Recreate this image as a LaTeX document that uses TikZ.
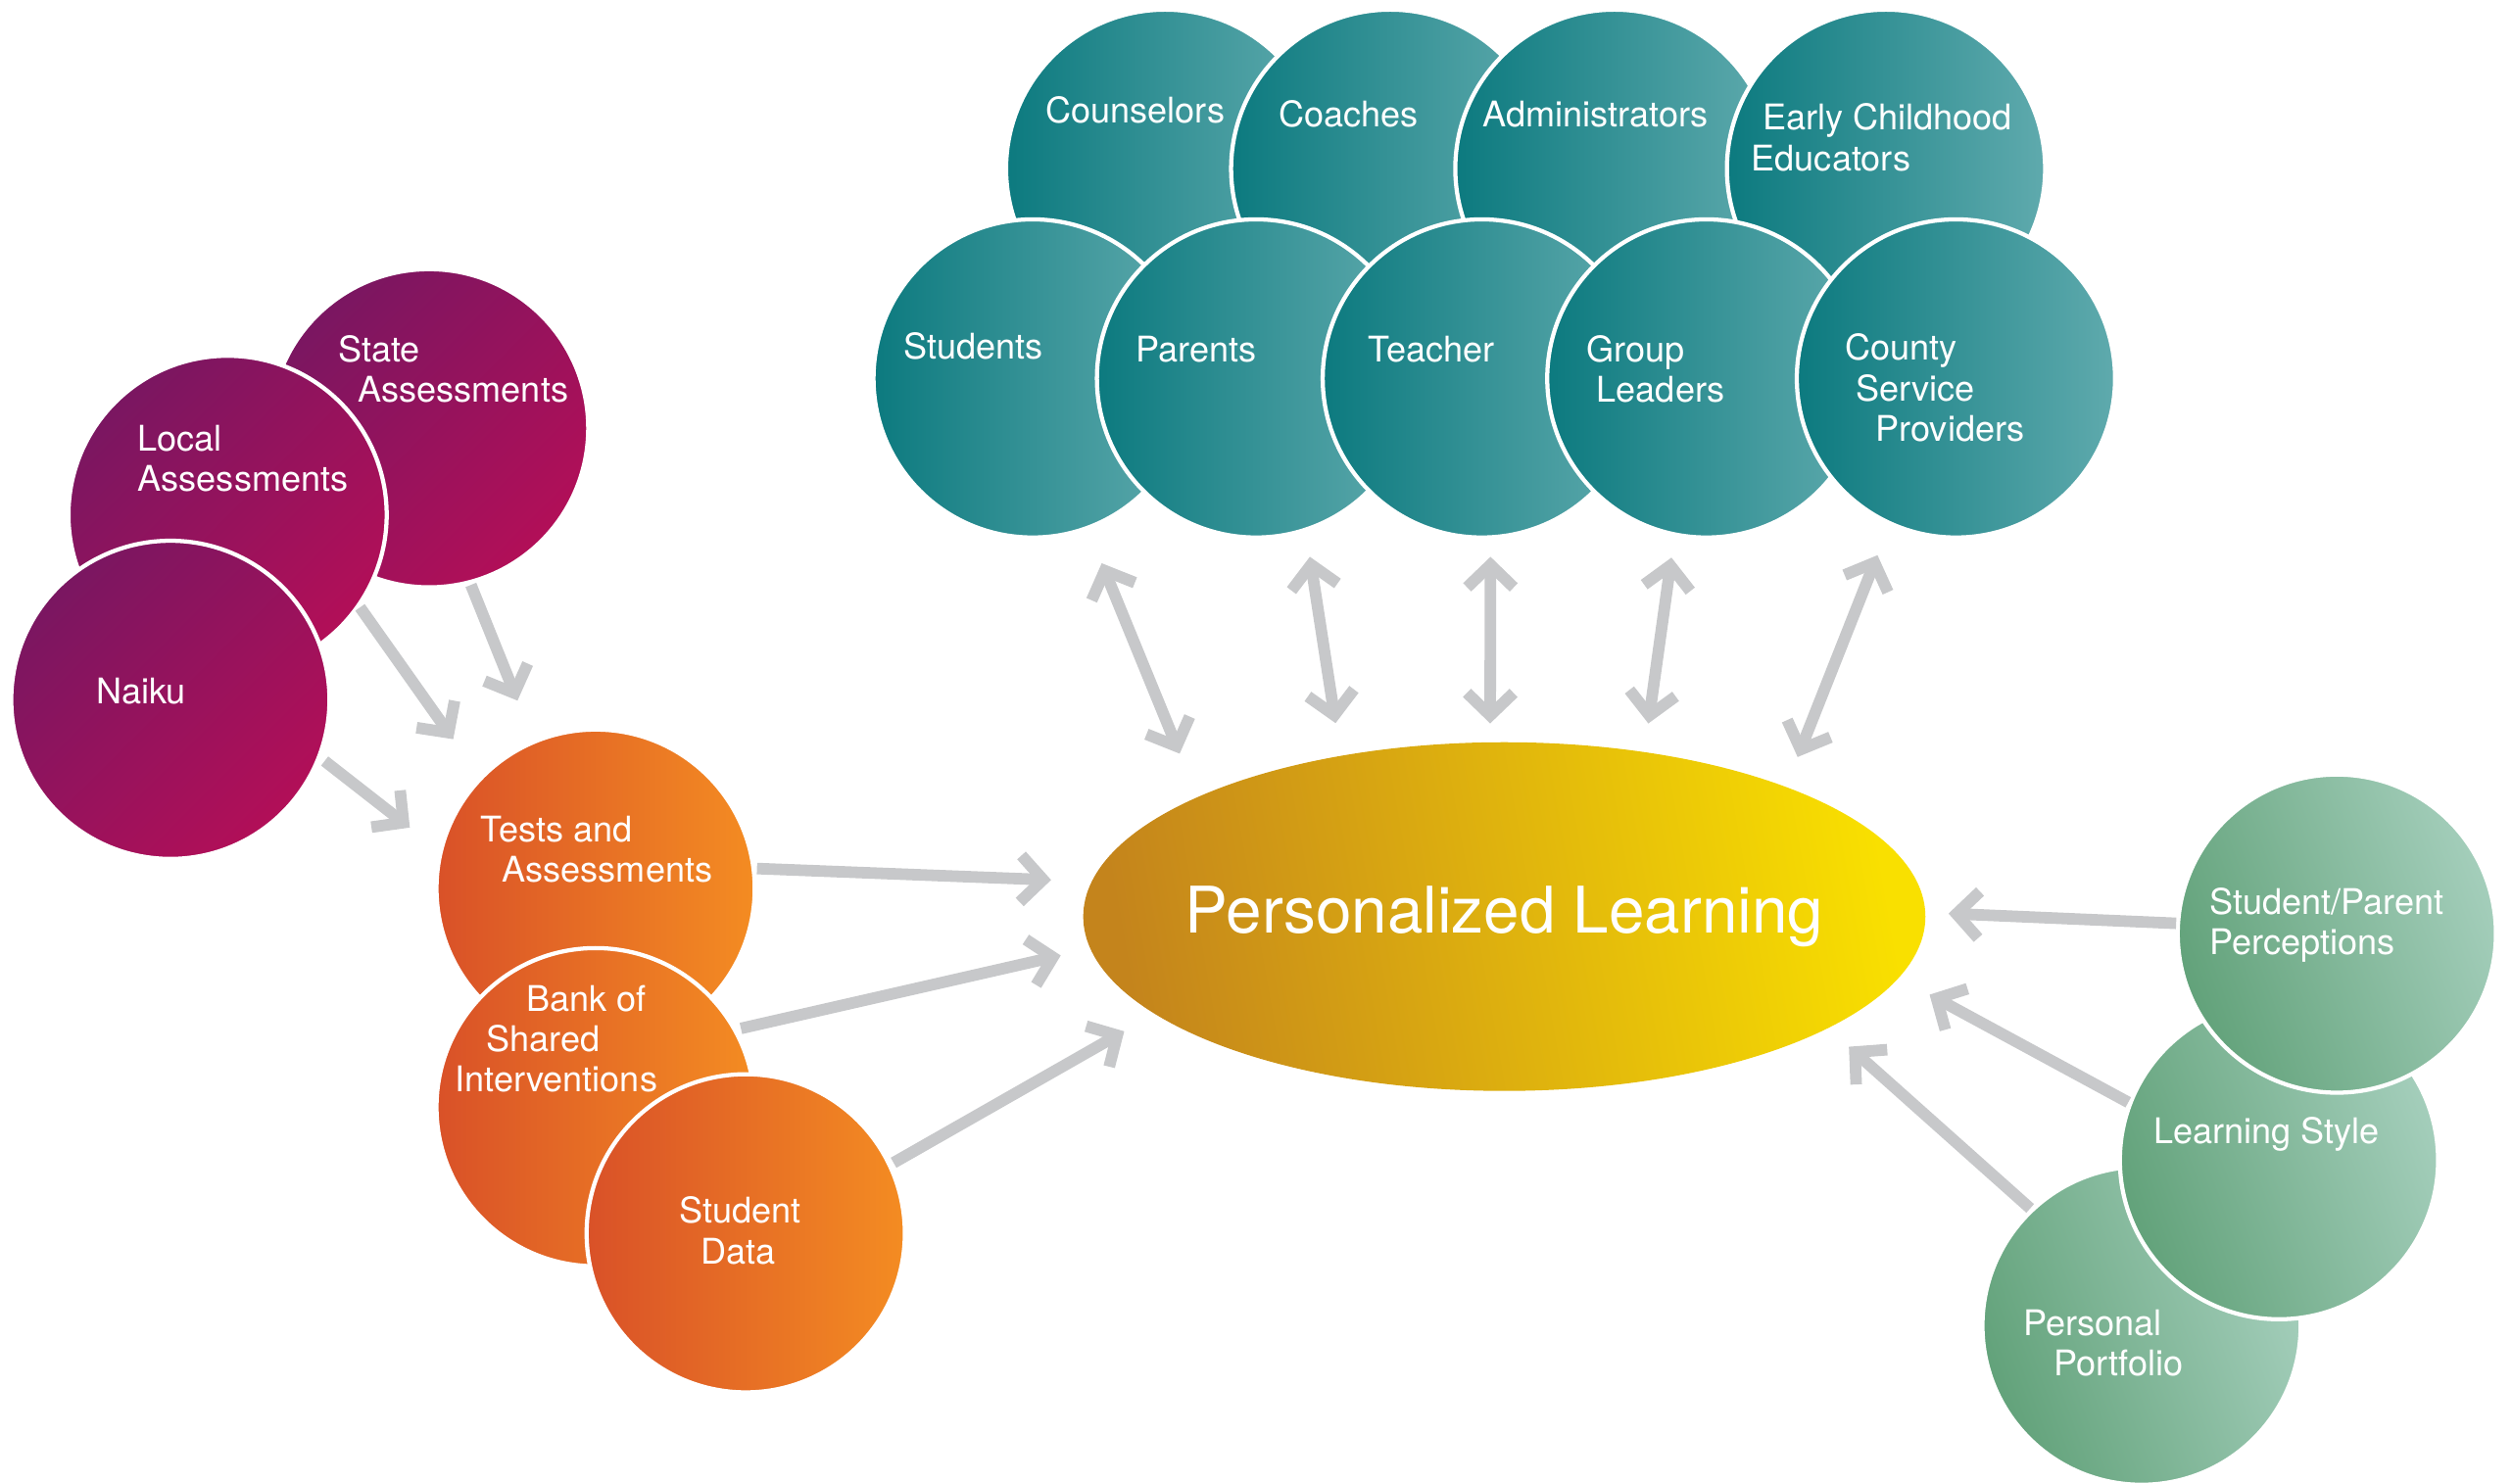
\documentclass[tikz,border=0pt]{standalone}
\usepackage{fontspec}
\setmainfont{TeX Gyre Heros}
\usetikzlibrary{arrows.meta,shapes.geometric}
\definecolor{purA}{HTML}{7A1661}
\definecolor{purB}{HTML}{B20F58}
\definecolor{orgA}{HTML}{D95128}
\definecolor{orgB}{HTML}{F48C22}
\definecolor{tealA}{HTML}{0C7A7F}
\definecolor{tealB}{HTML}{5FAAAD}
\definecolor{yelA}{HTML}{C4841C}
\definecolor{yelB}{HTML}{F9E000}
\definecolor{grnA}{HTML}{62A27A}
\definecolor{grnB}{HTML}{A4CEBB}
\definecolor{arrgray}{HTML}{C7C8CA}
\begin{document}
\begin{tikzpicture}[x=0.5pt,y=-0.5pt,
  circ/.style={circle, minimum size=99pt, inner sep=0pt, outer sep=0pt, draw=white, line width=1.3pt},
  purc/.style={circ, top color=purA, bottom color=purB, shading angle=45},
  orgc/.style={circ, left color=orgA, right color=orgB},
  tealc/.style={circ, left color=tealA, right color=tealB},
  grnc/.style={circ, left color=grnA, right color=grnB, shading angle=110},
  lbl/.style={anchor=base west, align=left, text=white, inner sep=0pt, outer sep=0pt, font=\fontsize{11}{12.55}\selectfont},
  tipb/.tip={Straight Barb[length=7pt, width=14.5pt, sharp]},
  arr/.style={draw=arrgray, line width=3.6pt, line cap=butt, -tipb},
  darr/.style={draw=arrgray, line width=3.6pt, line cap=butt, tipb-tipb}
]
\useasboundingbox (0,0) rectangle (1563,923);

% purple group
\node[purc] (state) at (267,266.5) {};
\node[lbl] (state-t) at (210.4,250.3) {State\\\hspace*{6.2pt}Assessments};
\node[purc] (local) at (141.6,320.4) {};
\node[lbl] (local-t) at (85.8,305.7) {Local\\Assessments};
\node[purc] (naiku) at (106,435.5) {};
\node[lbl] (naiku-t) at (59.8,438.1) {Naiku};

% orange group
\node[orgc] (tests) at (370.6,553) {};
\node[lbl] (tests-t) at (299.1,549.1) {Tests and\\\hspace*{6.7pt}Assessments};
\node[orgc] (bank) at (370.6,689) {};
\node[lbl] (bank-t) at (283.2,679.6) {\hspace*{22.2pt}Bank of\\\hspace*{9.7pt}Shared\\Interventions};
\node[orgc] (data) at (464,767.5) {};
\node[lbl] (data-t) at (422.8,786.4) {Student\\\hspace*{6.7pt}Data};

% teal back row
\node[tealc] (couns) at (725,105) {};
\node[lbl] (couns-t) at (650.7,76.5) {Counselors};
\node[tealc] (coach) at (865,105) {};
\node[lbl] (coach-t) at (795.7,78.9) {Coaches};
\node[tealc] (admin) at (1004.5,105) {};
\node[lbl] (admin-t) at (922.9,78.9) {Administrators};
\node[tealc] (early) at (1173.5,105) {};
\node[lbl] (early-t) at (1089.8,106.1) {\hspace*{3.5pt}Early Childhood\\Educators};

% teal front row
\node[tealc] (stud) at (642.5,235.5) {};
\node[lbl] (stud-t) at (562.4,223.2) {Students};
\node[tealc] (par) at (781.5,235.5) {};
\node[lbl] (par-t) at (707,225.2) {Parents};
\node[tealc] (teach) at (922,235.5) {};
\node[lbl] (teach-t) at (851.5,225.2) {Teacher};
\node[tealc] (group) at (1061.7,235.5) {};
\node[lbl] (group-t) at (987.1,250.3) {Group\\\hspace*{3.2pt}Leaders};
\node[tealc] (county) at (1217,235.5) {};
\node[lbl] (county-t) at (1148.2,274.5) {County\\\hspace*{3.2pt}Service\\\hspace*{9.5pt}Providers};

% center
\node[ellipse, minimum width=262pt, minimum height=108.5pt, inner sep=0pt,
      left color=yelA, right color=yelB, shading angle=100] (pl) at (936,570.4) {};
\node[text=white, inner sep=0pt, font=\fontsize{20}{24}\selectfont] (pl-t) at (pl.center) {Personalized Learning};

% green group
\node[grnc] (pp) at (1332.5,825) {};
\node[lbl] (pp-t) at (1258.8,856.1) {Personal\\\hspace*{9.5pt}Portfolio};
\node[grnc] (ls) at (1418,722) {};
\node[lbl] (ls-t) at (1340.1,711.8) {Learning Style};
\node[grnc] (sp) at (1454,581) {};
\node[lbl] (sp-t) at (1375,594.1) {Student/Parent\\Perceptions};

% arrows into Tests and Assessments
\draw[arr] ([shift={(26,97.5)}]state.center) -- ([shift={(-48.6,-117)}]tests.center);
\draw[arr] ([shift={(82.4,57.6)}]local.center) -- ([shift={(-88.6,-93)}]tests.center);
\draw[arr] ([shift={(96,38.1)}]naiku.center) -- ([shift={(-115.6,-38)}]tests.center);

% orange to center
\draw[arr] ([shift={(100.4,-12.5)}]tests.center) -- ([shift={(-282,-22.8)}]pl.center);
\draw[arr] ([shift={(90.4,-49)}]bank.center) -- ([shift={(-276,24.2)}]pl.center);
\draw[arr] ([shift={(92,-43.9)}]data.center) -- ([shift={(-236.5,71.4)}]pl.center);

% teal double arrows
\draw[darr] ([shift={(43,115)}]stud.center) -- ([shift={(-202,-101.4)}]pl.center);
\draw[darr] ([shift={(33.5,111)}]par.center) -- ([shift={(-105,-120.4)}]pl.center);
\draw[darr] ([shift={(5.4,111)}]teach.center) -- ([shift={(-8.8,-120.2)}]pl.center);
\draw[darr] ([shift={(-21.7,111.5)}]group.center) -- ([shift={(89.6,-120.2)}]pl.center);
\draw[darr] ([shift={(-48.8,110)}]county.center) -- ([shift={(182.5,-99.3)}]pl.center);

% green to center
\draw[arr] ([shift={(-100,-6.4)}]sp.center) -- ([shift={(276.4,-1.9)}]pl.center);
\draw[arr] ([shift={(-93.8,-36)}]ls.center) -- ([shift={(264.6,48.6)}]pl.center);
\draw[arr] ([shift={(-69.3,-73)}]pp.center) -- ([shift={(214.4,81)}]pl.center);
\end{tikzpicture}
\end{document}
